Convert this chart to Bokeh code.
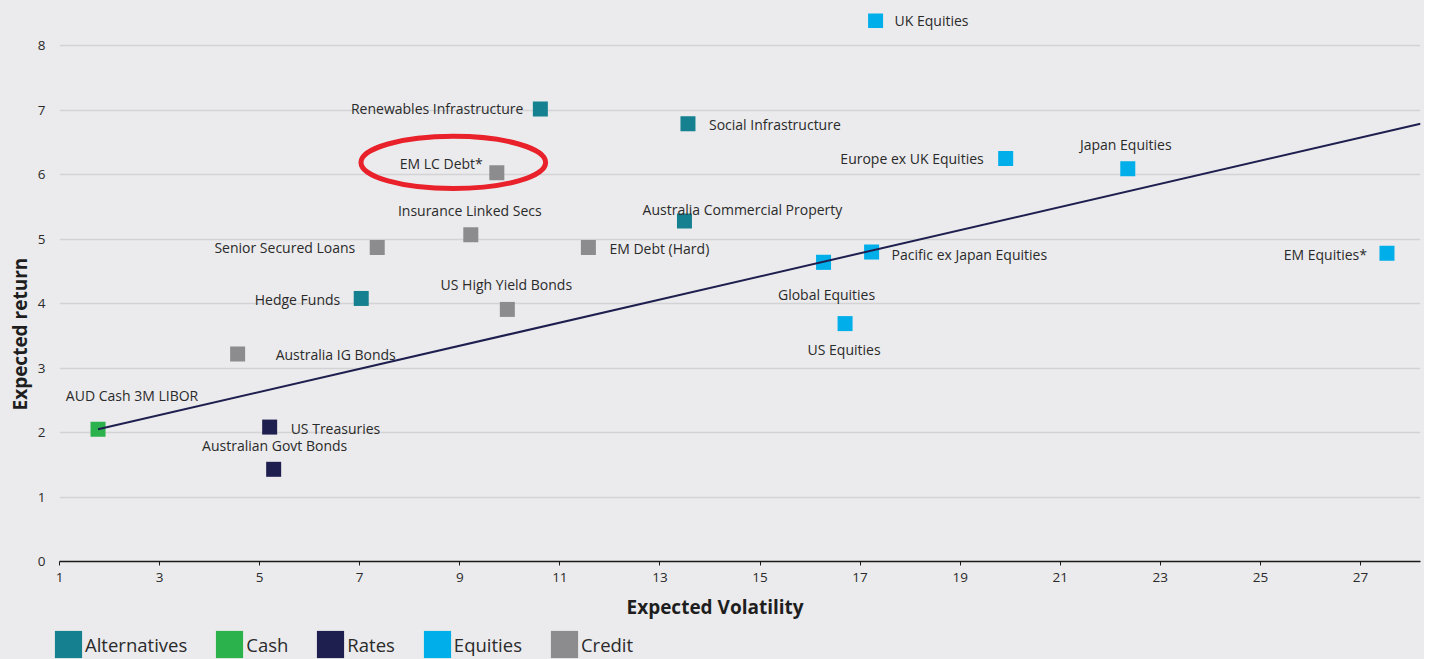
from bokeh.plotting import figure
from bokeh.layouts import column, row
from bokeh.models import (ColumnDataSource, Legend, LegendItem, Range1d, FixedTicker, Title)
from bokeh.core.properties import value
from bokeh.embed import file_html
from bokeh.resources import INLINE

# ---------------- data ----------------
names = ["UK Equities", "Renewables Infrastructure", "Social Infrastructure", "EM LC Debt*",
         "Europe ex UK Equities", "Japan Equities", "Australia Commercial Property",
         "Insurance Linked Secs", "Senior Secured Loans", "EM Debt (Hard)", "Global Equities",
         "Pacific ex Japan Equities", "EM Equities*", "Hedge Funds", "US High Yield Bonds",
         "US Equities", "Australia IG Bonds", "AUD Cash 3M LIBOR", "US Treasuries",
         "Australian Govt Bonds"]
volatility = [17.31, 10.61, 13.56, 9.74, 19.91, 22.35, 13.49, 9.22, 7.35, 11.57, 16.27,
              17.23, 27.53, 7.03, 9.95, 16.70, 4.56, 1.77, 5.20, 5.28]
returns = [8.39, 7.02, 6.79, 6.03, 6.25, 6.09, 5.28, 5.07, 4.87, 4.87, 4.64,
           4.80, 4.78, 4.08, 3.91, 3.69, 3.22, 2.05, 2.085, 1.43]
groups = ["Equities", "Alternatives", "Alternatives", "Credit", "Equities", "Equities",
          "Alternatives", "Credit", "Credit", "Credit", "Equities", "Equities", "Equities",
          "Alternatives", "Credit", "Equities", "Credit", "Cash", "Rates", "Rates"]

categories = ["Alternatives", "Cash", "Rates", "Equities", "Credit"]
trend_x = [1.77, 28.2]
trend_y = [2.05, 6.79]
x_ticks = [1, 3, 5, 7, 9, 11, 13, 15, 17, 19, 21, 23, 25, 27]
y_ticks = [0, 1, 2, 3, 4, 5, 6, 7, 8]

# ---------------- styles ----------------
colors = {"Alternatives": "#15808F", "Cash": "#2BB24C", "Rates": "#1F1F4F",
          "Equities": "#00AEEA", "Credit": "#8C8C8E"}
# label placement: (align, dx px, dy px)
placement = {
    "UK Equities": ("left", 19, 0),
    "Renewables Infrastructure": ("right", -17, 0),
    "Social Infrastructure": ("left", 21, 1),
    "EM LC Debt*": ("right", -14, -9),
    "Europe ex UK Equities": ("right", -22, 0),
    "Japan Equities": ("center", -2, -24),
    "Australia Commercial Property": ("center", 58, -12),
    "Insurance Linked Secs": ("center", -1, -24),
    "Senior Secured Loans": ("right", -22, 0),
    "EM Debt (Hard)": ("left", 21, 1),
    "Global Equities": ("center", 3, 32),
    "Pacific ex Japan Equities": ("left", 20, 2),
    "EM Equities*": ("right", -20, 1),
    "Hedge Funds": ("right", -21, 1),
    "US High Yield Bonds": ("center", -1, -25),
    "US Equities": ("center", -1, 26),
    "Australia IG Bonds": ("left", 38, 1),
    "AUD Cash 3M LIBOR": ("center", 34, -34),
    "US Treasuries": ("left", 21, 1),
    "Australian Govt Bonds": ("center", 1, -24),
}

BG = "#EBEBED"
FONT = "Open Sans"
TXT = "#2A2A2A"
W = 1424

p = figure(frame_width=1361, frame_height=548, output_backend="svg", toolbar_location=None,
           x_range=Range1d(1, 28.2), y_range=Range1d(0, 8.5),
           min_border_left=59, min_border_right=4, min_border_top=13, min_border_bottom=62,
           background_fill_color=BG, border_fill_color=BG, outline_line_color=None)

p.xgrid.grid_line_color = None
p.ygrid.grid_line_color = "#D3D3D5"
p.ygrid.grid_line_width = 1.5
p.xaxis.ticker = FixedTicker(ticks=x_ticks)
p.yaxis.ticker = FixedTicker(ticks=y_ticks)
p.xaxis.minor_tick_line_color = None
p.yaxis.minor_tick_line_color = None
p.yaxis.major_tick_line_color = None
p.yaxis.axis_line_color = None
p.yaxis.major_label_standoff = 8
p.xaxis.axis_line_color = "#1A1A1A"
p.xaxis.axis_line_width = 1.5
p.xaxis.major_tick_line_color = "#1A1A1A"
p.xaxis.major_tick_out = 4
p.xaxis.major_tick_in = 0
p.xaxis.major_label_standoff = 7
for ax in (p.xaxis, p.yaxis):
    ax.major_label_text_font = FONT
    ax.major_label_text_font_size = "13.5px"
    ax.major_label_text_color = TXT

# points
src = ColumnDataSource(dict(
    x=volatility, y=returns, name=names,
    color=[colors[g] for g in groups],
    align=[placement[n][0] for n in names],
    dx=[placement[n][1] for n in names],
    dy=[placement[n][2] for n in names],
))
p.scatter("x", "y", source=src, marker="square", size=15, fill_color="color",
          line_color=None)

# trend line
p.line(trend_x, trend_y, line_color="#1E1F4F", line_width=2)

# labels
p.text("x", "y", text="name", source=src, x_offset="dx", y_offset="dy",
       text_align="align", text_baseline="middle", text_font=value(FONT),
       text_font_size="14px", text_color=TXT)

# highlight ellipse
p.ellipse(x=[8.87], y=[6.19], width=3.69, height=0.81, fill_color=None,
          line_color="#E8212A", line_width=5)

# axis titles
ytitle = Title(text="Expected return", align="left", offset=151,
               text_font=FONT, text_font_size="19px", text_font_style="bold",
               text_color="#1E1E1E", standoff=4)
p.add_layout(ytitle, "left")
xtitle = Title(text="Expected Volatility", align="left", offset=567,
               text_font=FONT, text_font_size="19px", text_font_style="bold",
               text_color="#1E1E1E", standoff=14)
p.add_layout(xtitle, "below")

# legend in a separate strip below the chart
lg = figure(width=W, height=36, output_backend="svg", toolbar_location=None,
            x_range=Range1d(0, 1), y_range=Range1d(0, 1), min_border=0,
            x_axis_location=None, y_axis_location=None,
            background_fill_color=BG, border_fill_color=BG, outline_line_color=None)
lg.grid.grid_line_color = None
nan = float("nan")
items = []
for c in categories:
    r = lg.quad(left=[nan], right=[nan], top=[nan], bottom=[nan],
                fill_color=colors[c], line_color=None)
    items.append(LegendItem(label=c, renderers=[r]))
legend = Legend(items=items, orientation="horizontal", location=(51, 1),
                glyph_width=34, glyph_height=34, label_standoff=0, spacing=25,
                padding=0, margin=0, border_line_color=None, background_fill_alpha=0,
                label_text_font=FONT, label_text_font_size="18.5px", label_text_color=TXT,
                label_height=34)
lg.add_layout(legend, "center")

layout = column(p, row(lg, spacing=0, background=BG), spacing=0, background=BG)
open("out.html", "w").write(file_html(layout, INLINE))
